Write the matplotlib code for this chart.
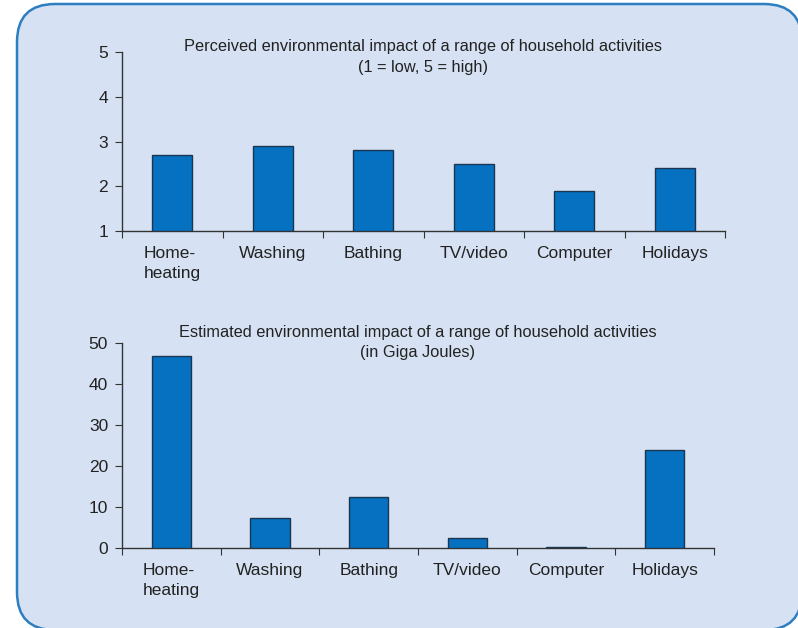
import matplotlib.pyplot as plt
from matplotlib.patches import FancyBboxPatch
import numpy as np

plt.rcParams['font.family'] = ['Liberation Sans', 'DejaVu Sans']

# data
activities = ['Home-\nheating', 'Washing', 'Bathing', 'TV/video', 'Computer', 'Holidays']
perceived = [2.7, 2.9, 2.8, 2.5, 1.9, 2.4]
estimated_gj = [46.8, 7.2, 12.4, 2.5, 0.3, 24.0]

perceived_ticks = [1, 2, 3, 4, 5]
estimated_ticks = [0, 10, 20, 30, 40, 50]

title_top = 'Perceived environmental impact of a range of household activities\n(1 = low, 5 = high)'
title_bottom = 'Estimated environmental impact of a range of household activities\n(in Giga Joules)'

BAR = '#0571c0'
EDGE = '#1d3550'
PANEL = '#d6e2f3'
BORDER = '#2c7ec0'
W, H = 798, 628

fig = plt.figure(figsize=(W / 100, H / 100), dpi=100)

# rounded light-blue panel behind everything
bg = fig.add_axes([0, 0, 1, 1], zorder=-1)
bg.set_xlim(0, W)
bg.set_ylim(H, 0)
bg.axis('off')
bg.add_patch(FancyBboxPatch((17, 4), 785, 626, boxstyle='round,pad=0,rounding_size=38',
                            facecolor=PANEL, edgecolor=BORDER, linewidth=1.8))


def px_axes(x0, x1, y_top, y_bot):
    return fig.add_axes([x0 / W, 1 - y_bot / H, (x1 - x0) / W, (y_bot - y_top) / H])


def draw(ax, values, yticks, title, title_y):
    x = np.arange(len(values)) + 0.5
    ax.bar(x, np.array(values) - yticks[0], bottom=yticks[0], width=0.4,
           color=BAR, edgecolor=EDGE, linewidth=1.0, zorder=3)
    ax.set_xlim(0, len(values))
    ax.set_ylim(yticks[0], yticks[-1])
    ax.set_yticks(yticks)
    ax.set_xticks(np.arange(len(values) + 1))
    ax.set_xticklabels([])
    ax.set_xticks(x, minor=True)
    ax.set_xticklabels(activities, minor=True, fontsize=12.5, color='#222222')
    for lab in ax.get_xticklabels(minor=True):
        lab.set_multialignment('left')
        lab.set_linespacing(1.4)
    ax.tick_params(axis='x', which='minor', length=0, pad=11)
    ax.tick_params(axis='x', which='major', length=5, direction='out', color='#333333')
    ax.tick_params(axis='y', length=5, direction='out', labelsize=12.5,
                   color='#333333', labelcolor='#222222', pad=5)
    ax.patch.set_alpha(0)
    for s in ['top', 'right']:
        ax.spines[s].set_visible(False)
    for s in ['left', 'bottom']:
        ax.spines[s].set_color('#333333')
        ax.spines[s].set_linewidth(1.0)
    ax.text(0.5, title_y, title, transform=ax.transAxes, ha='center', va='top',
            fontsize=11.8, color='#222222', linespacing=1.45)


ax1 = px_axes(122, 725, 52, 231)
draw(ax1, perceived, perceived_ticks, title_top, 1.07)

ax2 = px_axes(122, 714, 343, 548)
draw(ax2, estimated_gj, estimated_ticks, title_bottom, 1.09)

fig.savefig('out.png', dpi=100)
